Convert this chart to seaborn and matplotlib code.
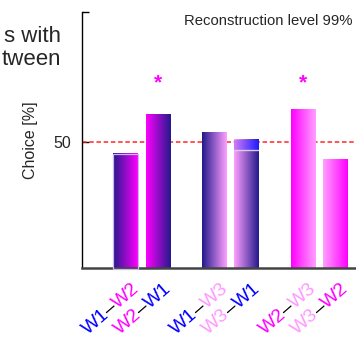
import numpy as np
import matplotlib
matplotlib.use("Agg")
import matplotlib.pyplot as plt
import matplotlib.transforms as mtransforms
from matplotlib.colors import to_rgb
import seaborn as sns

# ---- data ----
pairs = [("W1", "W2"), ("W2", "W1"), ("W1", "W3"), ("W3", "W1"), ("W2", "W3"), ("W3", "W2")]
bar_pos = [0, 1, 2.75, 3.75, 5.5, 6.5]
choice = [45.4, 60.7, 53.7, 50.6, 62.6, 43.0]
significant = [False, True, False, False, True, False]
overlay_top = 46.9          # inner layer visible in the W3-W1 bar
star_level = 73
chance_level = 50

# colours
text_col = {"W1": "#0000ff", "W2": "#ff00ff", "W3": "#ff99ff"}
bar_col = {"W1": "#23198c", "W2": "#ff00ff", "W3": "#ffa0ff"}

sns.set_style("white")
plt.rcParams["font.family"] = ["Liberation Sans", "DejaVu Sans"]

fig = plt.figure(figsize=(3.56, 3.37), dpi=100)
ax = fig.add_axes([0.2303, 0.2056, 0.809, 0.7588])

sns.barplot(x=bar_pos, y=choice, native_scale=True, orient="x", width=0.75,
            errorbar=None, color="white", ax=ax)

# gradient fill for each bar (left colour -> right colour)
for p, (a, b) in zip(ax.patches, pairs):
    x0, w, h = p.get_x(), p.get_width(), p.get_height()
    c0, c1 = np.array(to_rgb(bar_col[a])), np.array(to_rgb(bar_col[b]))
    t = np.linspace(0, 1, 128)[None, :, None]
    grad = c0 + (c1 - c0) * t
    ax.imshow(grad, extent=(x0, x0 + w, 0, h), aspect="auto", zorder=2,
              interpolation="bilinear", clip_on=False)
    p.set_visible(False)
    if (a, b) == ("W1", "W2"):
        ax.add_patch(plt.Rectangle((x0, 0), w, h, fill=False, ec="#c9b6f2",
                                   lw=0.9, zorder=3, clip_on=False))
    if (a, b) == ("W3", "W1"):
        band = np.array(to_rgb("#d27cf5")) + (np.array(to_rgb("#1c1cff")) - np.array(to_rgb("#d27cf5"))) * t
        ax.imshow(band, extent=(x0, x0 + w, overlay_top, h), aspect="auto",
                  zorder=3, interpolation="bilinear")
        ax.plot([x0, x0 + w], [overlay_top, overlay_top], color="#d9cfe6",
                lw=1, zorder=4)

ax.axhline(chance_level, color="#ff2a2a", ls=(0, (2.5, 1.5)), lw=1.3,
           alpha=0.85, zorder=1)

for x, s in zip(bar_pos, significant):
    if s:
        ax.text(x, star_level, "*", color="#ff00ff", fontsize=15,
                ha="center", va="center", fontweight="bold")

ax.text(1.817, 95.9, "Reconstruction level 99%", fontsize=10.7, ha="left",
        va="baseline")

ax.set_xlim(-1.351, 7.59)
ax.set_ylim(0.7, 101)
ax.set_xticks([])
ax.set_yticks([50, 101])
ax.set_yticklabels(["50", ""])
ax.tick_params(axis="y", direction="in", length=5, width=1, color="black",
               labelsize=11.5, pad=8, left=True)
ax.set_ylabel("Choice [%]", fontsize=11.5)
ax.yaxis.set_label_coords(-44 / 288, 0.5)

for side in ["top", "right"]:
    ax.spines[side].set_visible(False)
ax.spines["left"].set_color("black")
ax.spines["left"].set_linewidth(1)
ax.spines["bottom"].set_color("#444444")
ax.spines["bottom"].set_linewidth(1.8)

# multi-coloured, rotated pair labels under the bars
renderer = fig.canvas.get_renderer()
rot = 41
ang = np.deg2rad(rot)
base = ax.get_xaxis_transform()
for x, (a, b) in zip(bar_pos, pairs):
    parts = [(a, text_col[a]), ("\u2013", "black"), (b, text_col[b])]
    cum = 0.0
    for txt, col in reversed(parts):
        tr = mtransforms.offset_copy(base, fig=fig, x=6 - cum * np.cos(ang),
                                     y=-12 - cum * np.sin(ang), units="dots")
        tt = ax.text(x, 0, txt, color=col, transform=tr, fontsize=14,
                     ha="right", va="top", clip_on=False)
        cum += tt.get_window_extent(renderer).width
        tt.set_rotation(rot)
        tt.set_rotation_mode("anchor")

# visible part of the title text on the left
fig.text(61 / 356, 1 - 42 / 337, "s with", fontsize=16, ha="right",
         va="baseline")
fig.text(61 / 356, 1 - 65 / 337, "tween", fontsize=16, ha="right",
         va="baseline")

fig.savefig("out.png", dpi=100)
